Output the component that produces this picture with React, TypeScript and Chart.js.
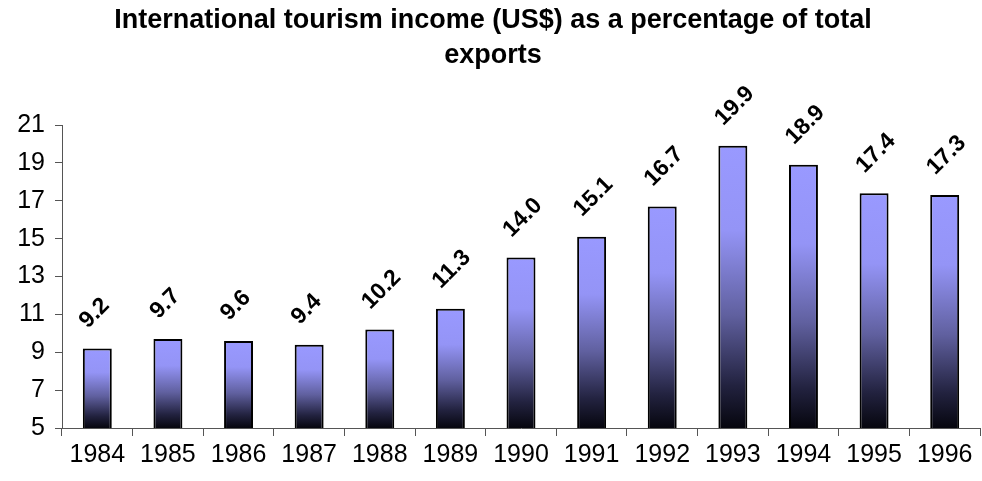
import React, { useEffect, useRef } from "react";
import { Chart, registerables } from "chart.js";

Chart.register(...registerables);

const years = ["1984", "1985", "1986", "1987", "1988", "1989", "1990", "1991", "1992", "1993", "1994", "1995", "1996"];
const values = [9.2, 9.7, 9.6, 9.4, 10.2, 11.3, 14.0, 15.1, 16.7, 19.9, 18.9, 17.4, 17.3];
const titleLines = ["International tourism income (US$) as a percentage of total", "exports"];
const yMin = 5;
const yMax = 21;
const yStep = 2;

const FONT = '"Liberation Sans", Arial, sans-serif';

const titlePlugin = {
  id: "customTitle",
  afterDraw(chart: any) {
    const c = chart.ctx;
    c.save();
    c.fillStyle = "#000";
    c.font = `bold 27px ${FONT}`;
    c.textAlign = "center";
    c.textBaseline = "middle";
    titleLines.forEach((t, i) => c.fillText(t, 493, 21 + i * 35));
    c.restore();
  },
};

const labelPlugin = {
  id: "rotLabels",
  afterDatasetsDraw(chart: any) {
    const c = chart.ctx;
    const meta = chart.getDatasetMeta(0);
    c.save();
    c.fillStyle = "#000";
    c.font = `bold 23px ${FONT}`;
    c.textAlign = "left";
    c.textBaseline = "middle";
    meta.data.forEach((el: any, i: number) => {
      const x = el.x - 14;
      const y = el.y - 24;
      c.save();
      c.translate(x, y);
      c.rotate(-Math.PI / 4);
      c.fillText(values[i].toFixed(1), 0, 0);
      c.restore();
    });
    c.restore();
  },
};

export default function App() {
  const ref = useRef<HTMLCanvasElement | null>(null);
  useEffect(() => {
    if (!ref.current) return;
    const chart = new Chart(ref.current, {
      type: "bar",
      data: {
        labels: years,
        datasets: [
          {
            data: values,
            backgroundColor: (ctx: any) => {
              const chart = ctx.chart;
              if (!chart.chartArea || ctx.type !== "data") return "#9999ff";
              const sy = chart.scales.y;
              const top = sy.getPixelForValue(ctx.raw);
              const bottom = sy.getPixelForValue(yMin);
              const g = chart.ctx.createLinearGradient(0, top, 0, bottom);
              g.addColorStop(0, "#9999ff");
              g.addColorStop(0.3, "#9494f6");
              g.addColorStop(0.6, "#60609f");
              g.addColorStop(0.85, "#22223f");
              g.addColorStop(1, "#06060e");
              return g;
            },
            borderColor: "#000",
            borderWidth: 2,
            borderSkipped: false,
            barPercentage: 0.41,
            categoryPercentage: 1,
          },
        ],
      },
      options: {
        animation: false,
        responsive: true,
        maintainAspectRatio: false,
        layout: { padding: { top: 125, right: 2, left: 0, bottom: 0 } },
        plugins: {
          legend: { display: false },
          title: { display: false },
          tooltip: { enabled: false },
        },
        scales: {
          x: {
            grid: { drawOnChartArea: false, offset: true, tickLength: 8, color: "#555" },
            border: { display: true, color: "#555", width: 1 },
            ticks: { color: "#000", font: { family: FONT, size: 25 }, padding: 4, maxRotation: 0, autoSkip: false },
            afterFit: (s: any) => {
              s.height = 53;
            },
          },
          y: {
            min: yMin,
            max: yMax,
            grid: { drawOnChartArea: false, tickLength: 7, color: "#555" },
            border: { display: true, color: "#555", width: 1 },
            ticks: { stepSize: yStep, color: "#000", font: { family: FONT, size: 25 }, padding: 10 },
            afterFit: (s: any) => {
              s.width = 62;
            },
          },
        },
      },
      plugins: [titlePlugin, labelPlugin],
    });
    return () => chart.destroy();
  }, []);
  return (
    <div style={{ position: "absolute", left: 0, top: 0, width: 982, height: 481 }}>
      <canvas ref={ref} />
    </div>
  );
}
